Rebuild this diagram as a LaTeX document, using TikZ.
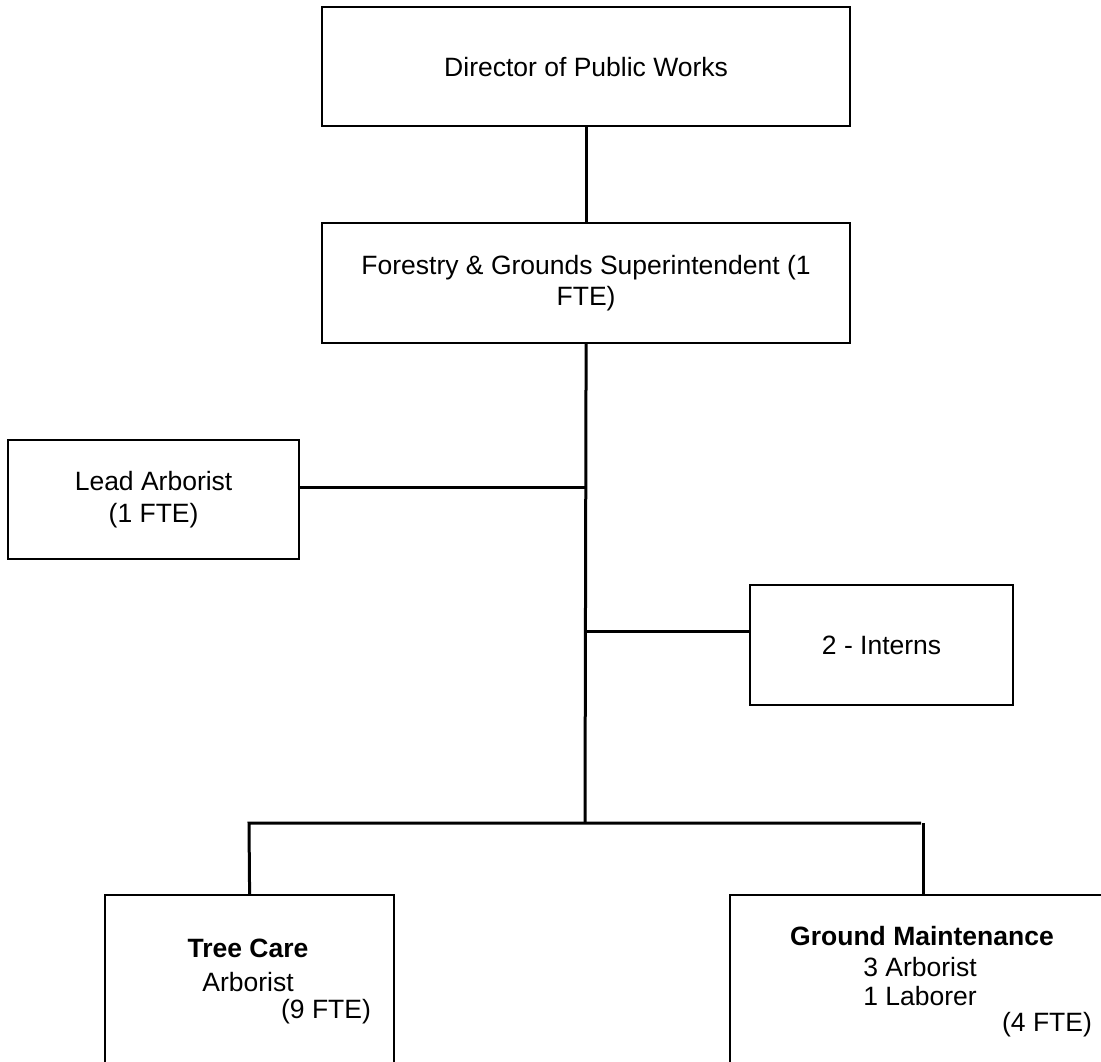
\documentclass[tikz,border=0pt]{standalone}
\usepackage{fontspec}
\setmainfont{Liberation Sans}
\begin{document}
\begin{tikzpicture}[x=1pt,y=-1pt,
  box/.style={draw, line width=2.2pt, inner sep=0pt, anchor=north west,
    font=\fontsize{26.5}{31.8}\selectfont, align=center},
  link/.style={line width=3pt},
  lbl/.style={inner sep=0pt, font=\fontsize{26.5}{31.8}\selectfont}]
\useasboundingbox (0,0) rectangle (1101,1061);
\clip (0,0) rectangle (1101,1061);

% boxes
\node[box, minimum width=528pt, minimum height=119pt] (dir) at (321,6)
  {Director of Public Works};
\node[box, minimum width=528pt, minimum height=120pt] (fgs) at (321,222)
  {Forestry \& Grounds Superintendent (1\\FTE)};
\node[box, minimum width=291pt, minimum height=119pt] (lead) at (7,439)
  {Lead Arborist\\(1 FTE)};
\node[box, minimum width=263pt, minimum height=120pt] (intern) at (749,584)
  {2 - Interns};
\node[box, minimum width=289pt, minimum height=250pt] (tree) at (104,894) {};
\node[box, minimum width=386pt, minimum height=250pt] (gm) at (729,894) {};

% text of the open-ended boxes
\node[lbl, font=\fontsize{26.5}{31.8}\selectfont\bfseries] (tc1) at (248,948) {Tree Care};
\node[lbl] (tc2) at (248,982) {Arborist};
\node[lbl] (tc3) at (326,1012) {(9 FTE)};
\node[lbl, font=\fontsize{26.5}{31.8}\selectfont\bfseries] (gm1) at (922,936) {Ground Maintenance};
\node[lbl] (gm2) at (920,967) {3 Arborist};
\node[lbl] (gm3) at (920,996) {1 Laborer};
\node[lbl] (gm4) at (1047,1025) {(4 FTE)};

% junction points on the trunk
\coordinate (la) at (585,487);
\coordinate (ia) at (585,631);
\coordinate (hub) at (585,823);
\coordinate (barL) at (249,823);
\coordinate (barR) at (921,823);

% connectors
\draw[link] (dir.south) -- (fgs.north);
\draw[link] (fgs.south) -- (hub);
\draw[link] (la -| lead.east) -- (la);
\draw[link] (ia) -- (ia -| intern.west);
\draw[link] (tree.north) -- (barL) -- (barR);
\draw[link] (gm.north) -- (gm.north |- barR);
\end{tikzpicture}
\end{document}
